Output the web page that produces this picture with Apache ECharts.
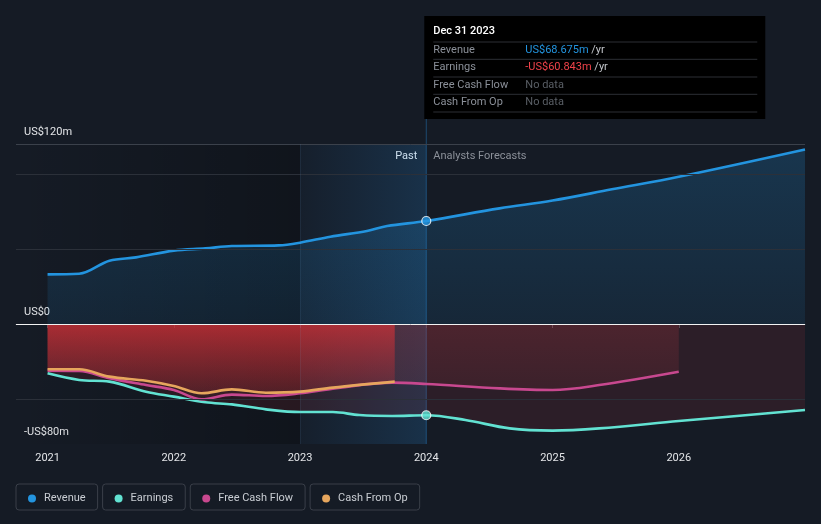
<!DOCTYPE html>
<html><head><meta charset="utf-8">
<script src="https://cdn.jsdelivr.net/npm/echarts@6/dist/echarts.min.js"></script>
<style>html,body{margin:0;padding:0;background:#151b25;}#c{width:821px;height:524px;}</style>
</head><body><div id="c"></div>
<script>
// ---- data (US$ millions, x = decimal year) ----
const revenueYears = [2021, 2021.25, 2021.49, 2021.7, 2022, 2022.25, 2022.46, 2022.83, 2023, 2023.24, 2023.53, 2023.69, 2024, 2024.58, 2025, 2025.47, 2026, 2027];
const revenue      = [33.1, 33.5, 42.2, 44.4, 48.9, 50.4, 52.0, 52.4, 54.2, 58.2, 62.0, 65.3, 68.675, 77.1, 82.3, 89.8, 98.2, 116.4];
const earningsYears = [2021, 2021.25, 2021.49, 2021.78, 2022, 2022.25, 2022.46, 2022.73, 2023, 2023.26, 2023.47, 2023.73, 2024, 2024.31, 2024.66, 2025, 2025.37, 2026, 2027];
const earnings      = [-32.9, -37.3, -38.4, -45.1, -48.4, -52.2, -53.6, -56.9, -58.7, -58.7, -60.7, -61.3, -60.843, -64.0, -69.6, -71.1, -69.6, -64.7, -57.3];
const fcfYears = [2021, 2021.25, 2021.49, 2021.78, 2022, 2022.22, 2022.46, 2022.73, 2023, 2023.26, 2023.73, 2024, 2024.58, 2025, 2025.37, 2026];
const fcf      = [-31.1, -31.3, -36.2, -40.7, -44.0, -50.2, -47.1, -48.0, -46.2, -43.1, -39.1, -40.0, -42.9, -44.0, -40.7, -31.8];
const cfoYears = [2021, 2021.25, 2021.49, 2021.78, 2022, 2022.22, 2022.46, 2022.73, 2023, 2023.26, 2023.75];
const cfo      = [-30.2, -30.2, -35.1, -37.8, -41.3, -46.2, -43.6, -45.8, -45.1, -42.4, -38.4];
const xTicks = [2021, 2022, 2023, 2024, 2025, 2026];
const yLabelValues = [-80, 0, 120];
const gridValues = [120, 100, 50, -50];
const seriesNames = ['Revenue', 'Earnings', 'Free Cash Flow', 'Cash From Op'];
const xMin = 2020.75, xMax = 2027;
const pastStart = 2023, presentYear = 2024;
const tooltipDate = 'Dec 31 2023';

const colors = ['#2394df', '#62e2d2', '#c8488f', '#e6a65d'];
const zip = (xs, ys) => xs.map((x, i) => [x, ys[i]]);
const FONT = 'Roboto';
const lg = (a, b) => new echarts.graphic.LinearGradient(0, 0, 0, 1, [{offset: 0, color: a}, {offset: 1, color: b}]);
const hg = (a, b) => new echarts.graphic.LinearGradient(0, 0, 1, 0, [{offset: 0, color: a}, {offset: 1, color: b}]);

const allData = [zip(revenueYears, revenue), zip(earningsYears, earnings), zip(fcfYears, fcf), zip(cfoYears, cfo)];
const areaFills = [
  lg('rgba(35,148,223,0.22)', 'rgba(35,148,223,0.10)'),
  'rgba(200,55,65,0.13)',
  lg('rgba(205,60,70,0.20)', 'rgba(205,60,70,0.08)'),
  lg('rgba(228,50,55,0.62)', 'rgba(200,45,50,0.18)')
];

const areaSeries = allData.map((d, i) => ({
  name: seriesNames[i], type: 'line', data: d, smooth: 0.35, showSymbol: false, silent: true,
  color: colors[i], lineStyle: {width: 0, opacity: 0}, areaStyle: {color: areaFills[i], opacity: 1},
  z: 1
}));
areaSeries[0].markLine = {
  silent: true, symbol: 'none', label: {show: false},
  data: gridValues.map(v => ({yAxis: v, lineStyle: {color: v === 120 ? '#3b414b' : '#2b3039', width: 1, type: 'solid'}}))
    .concat([{yAxis: 0, lineStyle: {color: '#f2f2f2', width: 1, type: 'solid'}},
             {xAxis: pastStart, lineStyle: {color: 'rgba(120,170,220,0.10)', width: 1, type: 'solid'}}])
};

const bandSeries = {
  name: 'band', type: 'line', data: [], silent: true, z: 1,
  markArea: {silent: true,
    data: [
      [{xAxis: xMin, itemStyle: {color: hg('rgba(0,0,0,0)', 'rgba(0,0,0,0.25)')}}, {xAxis: pastStart}],
      [{xAxis: pastStart, itemStyle: {color: hg('rgba(40,130,210,0.04)', 'rgba(40,140,220,0.20)')}}, {xAxis: presentYear}]
    ]}
};

const lineSeries = allData.map((d, i) => ({
  name: seriesNames[i], type: 'line', data: d, smooth: 0.35, showSymbol: false,
  color: colors[i], lineStyle: {width: 2.6, color: colors[i]}, z: 3
}));

const iRev = revenueYears.indexOf(presentYear), iEarn = earningsYears.indexOf(presentYear);
const dotSeries = {
  name: 'dots', type: 'scatter', z: 5, symbolSize: 9,
  data: [
    {value: [presentYear, revenue[iRev]], itemStyle: {color: colors[0], borderColor: '#ffffff', borderWidth: 1.2}},
    {value: [presentYear, earnings[iEarn]], itemStyle: {color: colors[1], borderColor: '#ffffff', borderWidth: 1.2}}
  ]
};

const chart = echarts.init(document.getElementById('c'), null, {renderer: 'canvas'});
const option = {
  backgroundColor: '#151b25',
  animation: false,
  textStyle: {fontFamily: FONT},
  grid: {left: 16, right: 16, top: 144, bottom: 80},
  xAxis: {
    type: 'value', min: xMin, max: xMax,
    axisLine: {show: true, lineStyle: {color: '#4b515b'}},
    axisTick: {show: true, customValues: xTicks, length: 4, lineStyle: {color: '#4b515b'}},
    axisLabel: {customValues: xTicks, formatter: v => String(v), color: '#e3e5e8', fontSize: 11, margin: 9, fontFamily: FONT},
    splitLine: {show: false}
  },
  yAxis: {
    type: 'value', min: -80, max: 120,
    axisLine: {show: false}, axisTick: {show: false}, splitLine: {show: false},
    axisLabel: {customValues: yLabelValues, inside: true, verticalAlign: 'bottom', margin: 8, padding: [0, 0, 6, 0],
      color: '#e3e5e8', fontSize: 11, fontFamily: FONT,
      formatter: v => v === 0 ? 'US$0' : (v < 0 ? '-US$' + Math.abs(v) + 'm' : 'US$' + v + 'm')}
  },
  legend: {
    data: seriesNames, left: 28, top: 493, padding: 0, itemGap: 29, icon: 'circle', itemWidth: 8, itemHeight: 8,
    textStyle: {color: '#c9cdd3', fontSize: 11, fontFamily: FONT, padding: [0, 0, 0, 3]},
    selectedMode: false
  },
  series: [...areaSeries, bandSeries, ...lineSeries, dotSeries]
};
chart.setOption(option);

// ---- decorations positioned from the axes ----
const x2024 = chart.convertToPixel({xAxisIndex: 0}, presentYear);
const yTop = chart.convertToPixel({yAxisIndex: 0}, 120);
const yBot = chart.convertToPixel({yAxisIndex: 0}, -80);

const ctx = document.createElement('canvas').getContext('2d');
ctx.font = '11px ' + FONT;
const graphics = [];
// legend boxes
let bx = 16;
seriesNames.forEach(n => {
  const w = ctx.measureText(n).width + 40;
  graphics.push({type: 'rect', x: bx, y: 484, shape: {x: 0, y: 0, width: w, height: 26, r: 3},
    style: {fill: 'none', stroke: '#3a3f49', lineWidth: 1}, silent: true});
  bx += w + 5;
});
// present line
graphics.push({type: 'line', shape: {x1: x2024, y1: 119, x2: x2024, y2: yBot}, style: {stroke: '#1d4a70', lineWidth: 1}, z: 0, silent: true});
// Past / Analysts Forecasts
graphics.push({type: 'text', x: x2024 - 9, y: yTop + 12, style: {text: 'Past', fill: '#eef0f2', font: '11px ' + FONT, align: 'right', verticalAlign: 'middle'}, silent: true});
graphics.push({type: 'text', x: x2024 + 7, y: yTop + 12, style: {text: 'Analysts Forecasts', fill: '#8b9099', font: '11px ' + FONT, align: 'left', verticalAlign: 'middle'}, silent: true});

// tooltip box
const tipX = x2024 - 2, tipY = 16, tipW = 341, tipH = 103;
const tip = [{type: 'rect', shape: {x: tipX, y: tipY, width: tipW, height: tipH}, style: {fill: '#000000'}}];
tip.push({type: 'text', x: tipX + 9, y: tipY + 15, style: {text: tooltipDate, fill: '#ffffff', font: '500 11px ' + FONT, verticalAlign: 'middle'}});
const fmt = v => (v < 0 ? '-US$' : 'US$') + Math.abs(v).toFixed(3) + 'm';
const rows = [
  {label: 'Revenue', value: fmt(revenue[iRev]), vc: '#2394df', unit: true},
  {label: 'Earnings', value: fmt(earnings[iEarn]), vc: '#f0434a', unit: true},
  {label: 'Free Cash Flow', value: 'No data', vc: '#5a5f66', unit: false},
  {label: 'Cash From Op', value: 'No data', vc: '#5a5f66', unit: false}
];
const sepYs = [26, 43.3, 61, 78.3, 96];
sepYs.forEach(sy => tip.push({type: 'line', shape: {x1: tipX + 9, y1: tipY + sy, x2: tipX + tipW - 8, y2: tipY + sy}, style: {stroke: '#2c2f35', lineWidth: 1}}));
const rowYs = [34, 51.7, 69.3, 86];
rows.forEach((r, i) => {
  tip.push({type: 'text', x: tipX + 9, y: tipY + rowYs[i], style: {text: r.label, fill: '#8b9099', font: '11px ' + FONT, verticalAlign: 'middle'}});
  tip.push({type: 'text', x: tipX + 101, y: tipY + rowYs[i], style: {
    text: r.unit ? '{v|' + r.value + '} {u|/yr}' : '{v|' + r.value + '}',
    font: '11px ' + FONT, verticalAlign: 'middle',
    rich: {v: {fill: r.vc, font: '11px ' + FONT}, u: {fill: '#c3c6cb', font: '11px ' + FONT}}}});
});
graphics.push({type: 'group', z: 100, silent: true, children: tip});

chart.setOption({graphic: graphics});
</script>
</body></html>
